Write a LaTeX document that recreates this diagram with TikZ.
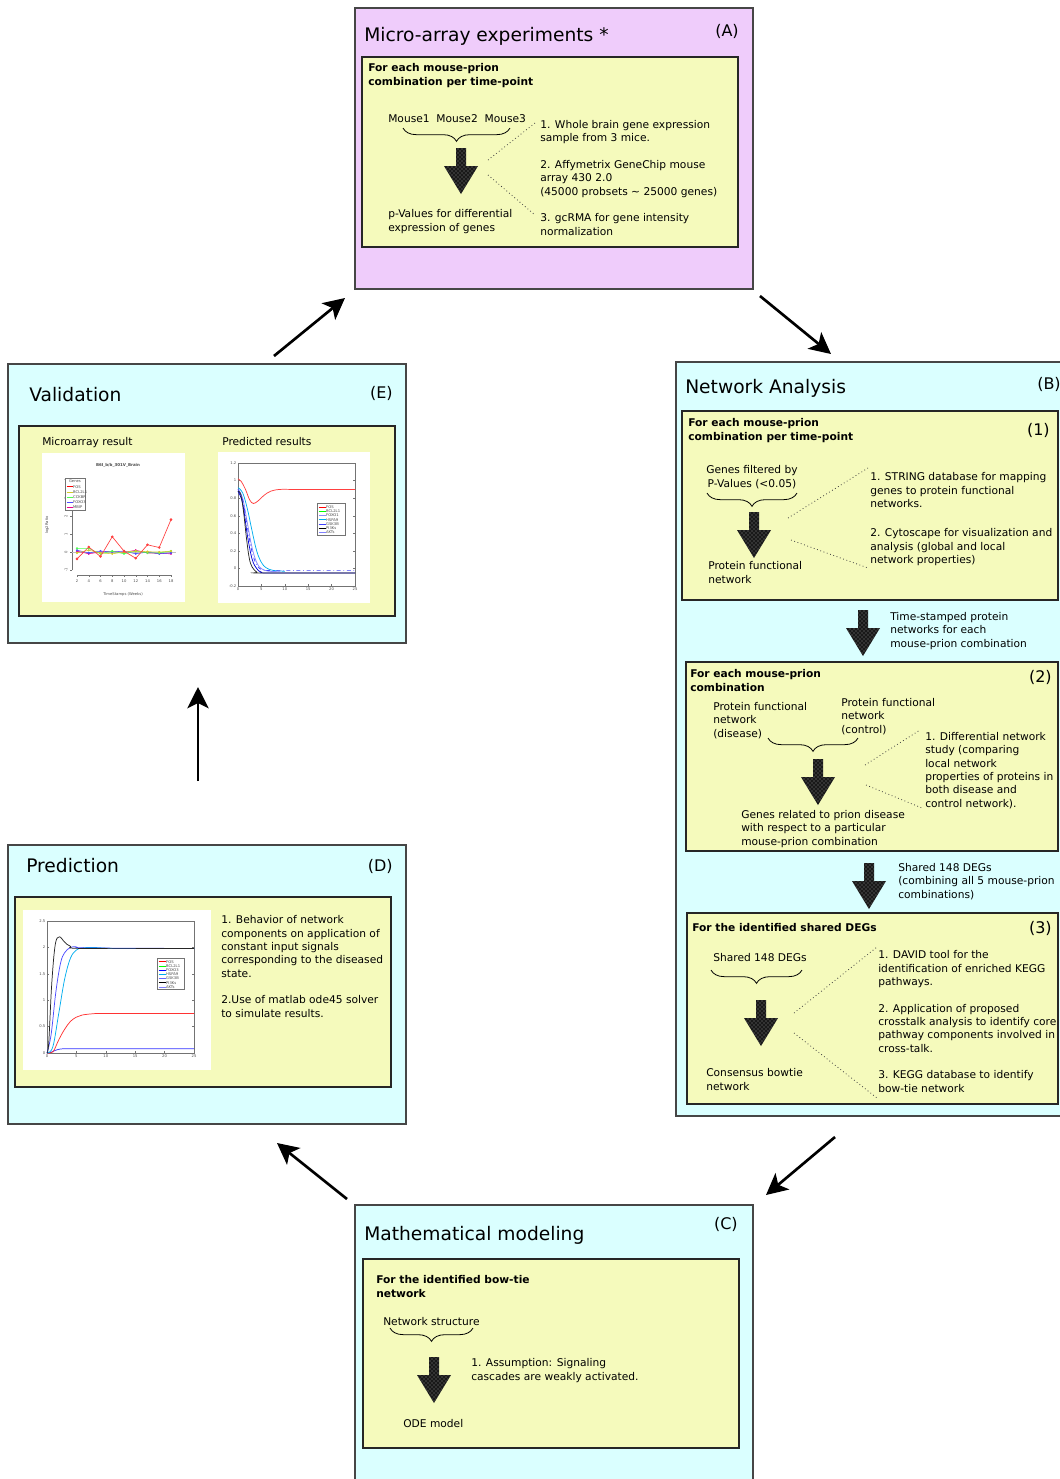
\documentclass[tikz,border=0pt]{standalone}
\usepackage{fontspec}
\setmainfont{DejaVu Sans}
\usetikzlibrary{arrows.meta,decorations.pathreplacing,patterns,fit}
\definecolor{pinkbg}{RGB}{239,204,251}
\definecolor{cyanbg}{RGB}{218,255,255}
\definecolor{yellowbg}{RGB}{245,250,188}
\definecolor{edgec}{RGB}{70,70,70}
\begin{document}
\begin{tikzpicture}[x=0.75pt, y=-0.75pt,
  title/.style={font=\fontsize{14}{17}\selectfont, inner sep=0pt},
  lab/.style={font=\fontsize{12}{14}\selectfont, inner sep=0pt},
  txt/.style={font=\fontsize{8}{10}\selectfont, align=left, inner sep=0pt},
  ctxt/.style={font=\fontsize{8}{10}\selectfont, align=center, inner sep=0pt},
  hdr/.style={font=\fontsize{8}{10}\selectfont\bfseries, align=left, inner sep=0pt},
  outer/.style={draw=edgec, line width=0.9pt, inner sep=0pt},
  ybox/.style={draw=black!85, line width=1.1pt, fill=yellowbg, inner sep=0pt},
  bigarrow/.style={line width=2pt, -{Stealth[length=16pt, width=16pt, inset=4pt]}},
  brc/.style={decorate, decoration={brace, mirror, amplitude=10pt}, line width=0.6pt},
  dotline/.style={dotted, line width=0.6pt, black!75},
  fatfill/.style={fill=black!90, postaction={pattern=crosshatch dots, pattern color=black!45}},
  pics/fatarrow/.style={code={\fill[fatfill] (-5,0) -- (5,0) -- (5,18) -- (17,18) -- (0,46) -- (-17,18) -- (-5,18) -- cycle;}},
  tiny/.style={font=\fontsize{2.8}{3}\selectfont, inner sep=0.3pt, text=black!70},
  axisc/.style={draw=black!55, line width=0.3pt},
  crv/.style={line width=0.55pt},
]
\useasboundingbox (0,0) rectangle (1060,1479);
\clip (0,0) rectangle (1060,1479);

% ================= A =================
\node[outer, fill=pinkbg, fit={(355,8) (753,289)}] (A) {};
\node[title, anchor=base west] (At) at (364,41) {Micro-array experiments *};
\node[lab, anchor=base east] (Al) at (739,36) {(A)};
\node[ybox, fit={(362,57) (738,247)}] (Ay) {};
\node[hdr, anchor=base west] (Ah) at (368,85) {For each mouse-prion\\combination per time-point};
\node[txt, anchor=base west] (Am) at (388,122) {Mouse1\ \ Mouse2\ \ Mouse3};
\draw[brc] (403,128) -- (510,128);
\pic (Aar) at (461,148) {fatarrow};
\node[txt, anchor=base west] (Ap) at (388,231) {p-Values for differential\\expression of genes};
\node[txt, anchor=base west] (Ar) at (540,235) {1. Whole brain gene expression\\sample from 3 mice.\\[10pt]2. Affymetrix GeneChip mouse\\array 430 2.0\\(45000 probsets \textasciitilde{} 25000 genes)\\[10pt]3. gcRMA for gene intensity\\normalization};
\draw[dotline] (488,160) -- (535,123);
\draw[dotline] (488,175) -- (535,215);

% ================= B =================
\node[outer, fill=cyanbg, fit={(676,362) (1075,1116)}] (B) {};
\node[title, anchor=base west] (Bt) at (685,393) {Network Analysis};
\node[lab, anchor=base west] (Bl) at (1037,389) {(B)};
% B1
\node[ybox, fit={(682,411) (1058,600)}] (B1) {};
\node[hdr, anchor=base west] (B1h) at (688,440) {For each mouse-prion\\combination per time-point};
\node[lab, anchor=base east] (B1l) at (1050,435) {(1)};
\node[ctxt, anchor=base] (B1g) at (752,487) {Genes filtered by\\P-Values (<0.05)};
\draw[brc] (707,493) -- (797,493);
\pic (B1ar) at (754,512) {fatarrow};
\node[txt, anchor=base west] (B1p) at (708,583) {Protein functional\\network};
\node[txt, anchor=base west] (B1r) at (870,563.5) {1. STRING database for mapping\\genes to protein functional\\networks.\\[12pt]2. Cytoscape for visualization and\\analysis (global and local\\network properties)};
\draw[dotline] (788,518) -- (868,468);
\draw[dotline] (791,540) -- (868,568);
% between 1 and 2
\pic (B12ar) at (863,610) {fatarrow};
\node[txt, anchor=base west] (B12t) at (890,647) {Time-stamped protein\\networks for each\\mouse-prion combination};
% B2
\node[ybox, fit={(686,662) (1058,851)}] (B2) {};
\node[hdr, anchor=base west] (B2h) at (690,691) {For each mouse-prion\\combination};
\node[lab, anchor=base east] (B2l) at (1052,682) {(2)};
\node[txt, anchor=base west] (B2d) at (713,737) {Protein functional\\network\\(disease)};
\node[txt, anchor=base west] (B2c) at (841,733) {Protein functional\\network\\(control)};
\draw[brc] (768,738) -- (858,738);
\pic (B2ar) at (818,759) {fatarrow};
\node[txt, anchor=base west] (B2g) at (741,845) {Genes related to prion disease\\with respect to a particular\\mouse-prion combination};
\node[txt, anchor=base west] (B2r) at (925,807) {1. Differential network\\study (comparing\\local network\\properties of proteins in\\both disease and\\control network).};
\draw[dotline] (865,765) -- (920,730);
\draw[dotline] (866,785) -- (922,808);
% between 2 and 3
\pic (B23ar) at (869,863) {fatarrow};
\node[txt, anchor=base west] (B23t) at (898,898) {Shared 148 DEGs\\(combining all 5 mouse-prion\\combinations)};
% B3
\node[ybox, fit={(687,913) (1058,1104)}] (B3) {};
\node[hdr, anchor=base west] (B3h) at (692,931) {For the identified shared DEGs};
\node[lab, anchor=base east] (B3l) at (1052,933) {(3)};
\node[txt, anchor=base west] (B3s) at (713,961) {Shared 148 DEGs};
\draw[brc] (711,970) -- (802,970);
\pic (B3ar) at (761,1000) {fatarrow};
\node[txt, anchor=base west] (B3c) at (706,1090) {Consensus bowtie\\network};
\node[txt, anchor=base west] (B3r) at (878,1092) {1. DAVID tool for the\\identification of enriched KEGG\\pathways.\\[10pt]2. Application of proposed\\crosstalk analysis to identify core\\pathway components involved in\\cross-talk.\\[10pt]3. KEGG database to identify\\bow-tie network};
\draw[dotline] (794,1013) -- (877,947);
\draw[dotline] (794,1033) -- (877,1098);

% ================= C =================
\node[outer, fill=cyanbg, fit={(355,1205) (753,1495)}] (C) {};
\node[title, anchor=base west] (Ct) at (364,1240) {Mathematical modeling};
\node[lab, anchor=base east] (Cl) at (738,1229) {(C)};
\node[ybox, fit={(363,1259) (739,1448)}] (Cy) {};
\node[hdr, anchor=base west] (Ch) at (376,1297) {For the identified bow-tie\\network};
\node[txt, anchor=base west] (Cn) at (383,1325) {Network structure};
\draw[brc] (390,1328) -- (473,1328);
\pic (Car) at (434,1357) {fatarrow};
\node[txt, anchor=base west] (Co) at (403,1427) {ODE model};
\node[txt, anchor=base west] (Cr) at (471,1380) {1. Assumption: Signaling\\cascades are weakly activated.};

% ================= D =================
\node[outer, fill=cyanbg, fit={(8,845) (406,1124)}] (D) {};
\node[title, anchor=base west] (Dt) at (26,872) {Prediction};
\node[lab, anchor=base east] (Dl) at (393,871) {(D)};
\node[ybox, fit={(15,897) (391,1087)}] (Dy) {};
\node[txt, anchor=base west] (Dr) at (221,1017) {1. Behavior of network\\components on application of\\constant input signals\\corresponding to the diseased\\state.\\[10pt]2.Use of matlab ode45 solver\\to simulate results.};
% plot D
\fill[white] (23,910) rectangle (211,1070);
\draw[axisc] (47,921) rectangle (194,1053);
\foreach \v/\yy in {2.5/921, 2/947.4, 1.5/973.8, 1/1000.2, 0.5/1026.6, 0/1053}
  {\draw[axisc] (47,\yy) -- ++(2,0); \draw[axisc] (194,\yy) -- ++(-2,0);
   \node[tiny, anchor=east] (Dyt\v) at (46,\yy) {\v};}
\foreach \v/\xx in {0/47, 5/76.4, 10/105.8, 15/135.2, 20/164.6, 25/194}
  {\draw[axisc] (\xx,1053) -- ++(0,-2);
   \node[tiny, anchor=north] (Dxt\v) at (\xx,1054) {\v};}
\begin{scope}[shift={(47,1053)}, x=4.41pt, y=39.6pt]
  \draw[crv, blue!80] plot[smooth, tension=0.6] coordinates {(0,0) (0.6,0.01) (1.2,0.04) (2,0.07) (3,0.08) (6,0.08) (25,0.08)};
  \draw[crv, red!80] plot[smooth, tension=0.6] coordinates {(0,0) (1,0.02) (2,0.25) (3,0.45) (4,0.6) (5,0.68) (6,0.72) (8,0.745) (10,0.75) (25,0.75)};
  \draw[crv, cyan] plot[smooth, tension=0.6] coordinates {(0,0) (1,0.12) (2,0.75) (3,1.4) (4,1.8) (5,1.95) (6,1.99) (8,2.0) (12,1.98) (25,1.98)};
  \draw[crv, blue!70] plot[smooth, tension=0.6] coordinates {(0,0) (0.7,0.35) (1.5,1.15) (2.3,1.7) (3,1.9) (4,2.0) (5,2.01) (7,1.99) (25,1.98)};
  \draw[crv, black!85] plot[smooth, tension=0.6] coordinates {(0,0) (0.3,0.2) (0.8,1.3) (1.4,2.05) (2.1,2.2) (3,2.1) (4,2.02) (6,1.98) (25,1.98)};
\end{scope}
\draw[axisc, fill=white] (157,958) rectangle (184,989);
\foreach \c/\n [count=\i] in {red/FOS, green/BCL2L1, blue/FOXO3, cyan/HSPA9, blue!60/GSK3B, black/PI3Ks, blue!50/AKTs}
  {\draw[\c, line width=0.4pt] (158.5,957.5+4.2*\i) -- ++(7,0) node[tiny, anchor=west] (Dleg\i) {\n};}

% ================= E =================
\node[outer, fill=cyanbg, fit={(8,364) (406,643)}] (E) {};
\node[title, anchor=base west] (Et) at (29,401) {Validation};
\node[lab, anchor=base east] (El) at (393,398) {(E)};
\node[ybox, fit={(19,426) (395,616)}] (Ey) {};
\node[txt, anchor=base west] (Em) at (42,445) {Microarray result};
\node[txt, anchor=base west] (Ep) at (222,445) {Predicted results};
% plot E1
\fill[white] (42,453) rectangle (185,602);
\node[tiny, font=\fontsize{3}{3}\selectfont\bfseries] (E1t) at (118,465) {B6I\_b/b\_301V\_Brain};
\draw[axisc] (72,480) -- (72,570);
\draw[axisc] (77,575) -- (171,575);
\draw[black!25, line width=0.4pt] (72,552) -- (176,552);
\foreach \v/\yy in {4/480, 3/498, 2/516, 1/534, 0/552, -1/570}
  {\draw[axisc] (72,\yy) -- ++(-2,0); \node[tiny, rotate=90, anchor=south] (E1y\v) at (68,\yy) {\v};}
\foreach \v/\xx in {2/77, 4/88.75, 6/100.5, 8/112.25, 10/124, 12/135.75, 14/147.5, 16/159.25, 18/171}
  {\draw[axisc] (\xx,575) -- ++(0,2); \node[tiny, anchor=north] (E1x\v) at (\xx,579) {\v};}
\node[tiny] (E1xl) at (123,594) {TimeStamps (Weeks)};
\node[tiny, rotate=90] (E1yl) at (47,525) {log2Ratio};
\begin{scope}[shift={(65.25,552)}, x=4.406pt, y=13.5pt]
  \draw[crv, line width=0.4pt, magenta, mark=*, mark size=0.6pt] plot coordinates {(2,0.05) (4,-0.1) (6,0) (8,0.03) (10,-0.02) (12,0.1) (14,-0.05) (16,-0.08) (18,-0.1)};
  \draw[crv, line width=0.4pt, blue!70, mark=*, mark size=0.6pt] plot coordinates {(2,0.1) (4,-0.05) (6,0.05) (8,0) (10,0.05) (12,-0.1) (14,0) (16,-0.1) (18,-0.05)};
  \draw[crv, line width=0.4pt, green!70, mark=*, mark size=0.6pt] plot coordinates {(2,0.2) (4,0.2) (6,-0.1) (8,0.05) (10,-0.1) (12,0.05) (14,-0.05) (16,-0.05) (18,0.05)};
  \draw[crv, line width=0.4pt, yellow!80!black, mark=*, mark size=0.6pt] plot coordinates {(2,-0.05) (4,0.1) (6,-0.05) (8,-0.1) (10,0) (12,0.05) (14,0.02) (16,0) (18,0.05)};
  \draw[crv, line width=0.5pt, red!75, mark=*, mark size=0.7pt] plot coordinates {(2,-0.38) (4,0.28) (6,-0.25) (8,0.85) (10,0.05) (12,-0.35) (14,0.4) (16,0.25) (18,1.8)};
\end{scope}
\draw[axisc, fill=white] (65,478) rectangle (85,510);
\node[tiny] (E1lg) at (75,481.5) {Genes};
\foreach \c/\n [count=\i] in {red/FOS, yellow!80!black/BCL2L1, green!70/CCKBR, blue!70/FOXO3, magenta/MBIP}
  {\draw[\c, line width=0.4pt] (66.5,481.5+5.2*\i) -- ++(6,0) node[tiny, anchor=west] (E1leg\i) {\n};}
% plot E2
\fill[white] (218,452) rectangle (370,603);
\draw[axisc] (238,463) rectangle (355,586);
\foreach \v/\yy in {1.2/463, 1/480.6, 0.8/498.2, 0.6/515.8, 0.4/533.4, 0.2/551, 0/568.6, -0.2/586}
  {\draw[axisc] (238,\yy) -- ++(2,0); \draw[axisc] (355,\yy) -- ++(-2,0);
   \node[tiny, anchor=east] (E2y\v) at (237,\yy) {\v};}
\foreach \v/\xx in {0/238, 5/261.4, 10/284.8, 15/308.2, 20/331.6, 25/355}
  {\draw[axisc] (\xx,586) -- ++(0,-2);
   \node[tiny, anchor=north] (E2x\v) at (\xx,587) {\v};}
\begin{scope}[shift={(238,568.6)}, x=3.51pt, y=66pt]
  \draw[crv, cyan] plot[smooth, tension=0.6] coordinates {(0,0.92) (1,0.86) (2,0.68) (3,0.43) (4,0.2) (5,0.07) (6,0.01) (7.5,-0.02) (10,-0.03)};
  \draw[crv, blue!45] plot[smooth, tension=0.6] coordinates {(0,0.9) (1,0.8) (2,0.52) (3,0.24) (4,0.07) (5,0.0) (6.5,-0.03) (9,-0.03)};
  \draw[crv, blue!75, dash dot] plot[smooth, tension=0.6] coordinates {(0,0.9) (1,0.78) (2,0.47) (3,0.19) (4,0.04) (5,-0.01) (6,-0.02) (8,-0.02) (25,-0.02)};
  \draw[crv, blue!85!black] plot[smooth, tension=0.6] coordinates {(0,0.88) (1,0.74) (2,0.38) (3,0.11) (4,0.0) (5,-0.04) (7,-0.05) (25,-0.05)};
  \draw[crv, black!85] plot[smooth, tension=0.6] coordinates {(0,0.88) (0.6,0.84) (1.2,0.64) (1.8,0.35) (2.4,0.12) (3,0.02) (4,-0.04) (5,-0.05) (25,-0.05)};
  \draw[crv, red!75] plot[smooth, tension=0.6] coordinates {(0,1.02) (0.7,0.99) (1.6,0.9) (2.5,0.78) (3.3,0.74) (4.3,0.77) (5.5,0.83) (7,0.88) (9,0.9) (12,0.9) (25,0.9)};
\end{scope}
\draw[axisc, fill=white] (317,503) rectangle (345,535);
\foreach \c/\n [count=\i] in {red/FOS, green/BCL2L1, blue!45/FOXO1, cyan/HSPA9, blue!75/GSK3B, black/PI3Ks, blue!50/AKTs}
  {\draw[\c, line width=0.4pt] (318.5,502.5+4.3*\i) -- ++(7,0) node[tiny, anchor=west] (E2leg\i) {\n};}

% ================= big connectors =================
\coordinate (ab1) at (760,296); \coordinate (ab2) at (831,354);
\coordinate (bc1) at (835,1137); \coordinate (bc2) at (766,1195);
\coordinate (cd1) at (347,1199); \coordinate (cd2) at (277,1143);
\coordinate (de1) at (198,781); \coordinate (de2) at (198,687);
\coordinate (ea1) at (274,356); \coordinate (ea2) at (345,298);
\draw[bigarrow] (ab1) -- (ab2);
\draw[bigarrow] (bc1) -- (bc2);
\draw[bigarrow] (cd1) -- (cd2);
\draw[bigarrow] (de1) -- (de2);
\draw[bigarrow] (ea1) -- (ea2);
\end{tikzpicture}
\end{document}
